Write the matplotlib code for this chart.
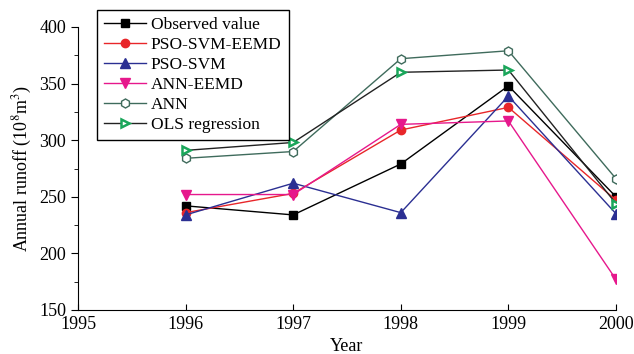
import matplotlib
matplotlib.use("Agg")
import matplotlib.pyplot as plt
from matplotlib.ticker import MultipleLocator

years = [1996, 1997, 1998, 1999, 2000]
observed = [242, 234, 279, 348, 250]
pso_svm_eemd = [236, 253, 309, 329, 247]
pso_svm = [234, 262, 236, 339, 235]
ann_eemd = [252, 252, 314, 317, 177]
ann = [284, 290, 372, 379, 266]
ols = [291, 298, 360, 362, 244]

plt.rcParams["font.family"] = ["Liberation Serif", "DejaVu Serif"]
plt.rcParams["mathtext.fontset"] = "stix"

fig = plt.figure(figsize=(6.34, 3.54), dpi=100)
ax = fig.add_axes([78 / 634, 1 - 310 / 354, (616 - 78) / 634, (310 - 27) / 354])

ax.plot(years, observed, color="black", marker="s", ms=6, lw=1, label="Observed value")
ax.plot(years, pso_svm_eemd, color="#e8262a", marker="o", ms=6, lw=1, label="PSO-SVM-EEMD")
ax.plot(years, pso_svm, color="#2b2f92", marker="^", ms=7, lw=1, label="PSO-SVM")
ax.plot(years, ann_eemd, color="#e6188c", marker="v", ms=7, lw=1, label="ANN-EEMD")
ax.plot(years, ann, color="#3f6b5c", marker="h", ms=6.5, mfc="white", mec="#3f6b5c",
        lw=1, label="ANN")
ax.plot(years, ols, color="#222222", marker=">", ms=6, mfc="white", mec="#1aa65a",
        mew=1.8, lw=1, label="OLS regression")

ax.set_xlim(1995, 2000)
ax.set_ylim(150, 400)
ax.set_xticks([1995, 1996, 1997, 1998, 1999, 2000])
ax.yaxis.set_major_locator(MultipleLocator(50))
ax.yaxis.set_minor_locator(MultipleLocator(25))
ax.tick_params(axis="x", direction="in", length=4, labelsize=13, pad=4)
ax.tick_params(axis="y", which="both", direction="out", labelsize=13)
ax.tick_params(axis="y", which="major", length=5)
ax.tick_params(axis="y", which="minor", length=3)
ax.spines["top"].set_visible(False)
ax.spines["right"].set_visible(False)
ax.set_xlabel("Year", fontsize=13, labelpad=0)
ax.xaxis.set_label_coords(0.5, -0.1)
ax.set_ylabel("Annual runoff (10$^{8}$m$^{3}$)", fontsize=13, labelpad=4)

leg = ax.legend(loc="upper left", bbox_to_anchor=(97 / 634, 1 - 10 / 354),
                bbox_transform=fig.transFigure, fontsize=12.5, fancybox=False,
                framealpha=1, edgecolor="black", borderaxespad=0,
                handlelength=2.4, handletextpad=0.3, labelspacing=0.22,
                borderpad=0.4)
leg.get_frame().set_linewidth(1)

fig.savefig("out.png", dpi=100)
